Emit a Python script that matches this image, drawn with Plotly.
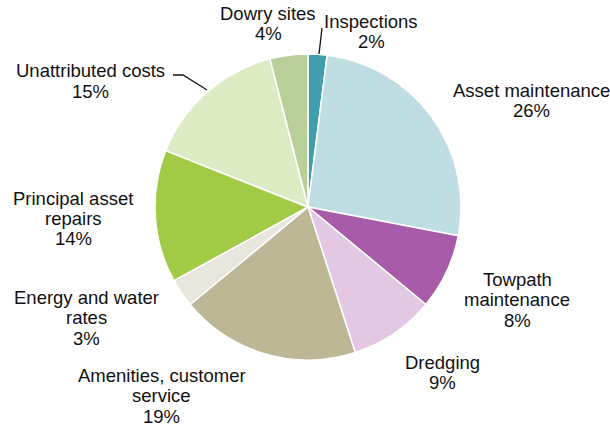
import plotly.graph_objects as go

# Expenditure breakdown, clockwise from 12 o'clock
categories = [
    "Inspections",
    "Asset maintenance",
    "Towpath maintenance",
    "Dredging",
    "Amenities, customer service",
    "Energy and water rates",
    "Principal asset repairs",
    "Unattributed costs",
    "Dowry sites",
]
shares = [2, 26, 8, 9, 19, 3, 14, 15, 4]

# Label text, one entry per displayed line (percentage appended below)
label_lines = [
    ["Inspections"],
    ["Asset maintenance"],
    ["Towpath", "maintenance"],
    ["Dredging"],
    ["Amenities, customer", "service"],
    ["Energy and water", "rates"],
    ["Principal asset", "repairs"],
    ["Unattributed costs"],
    ["Dowry sites"],
]

colors = [
    "#3f9fae",
    "#bfdee4",
    "#a75ba9",
    "#e3c7e3",
    "#bdb795",
    "#e7e5dc",
    "#a1cb45",
    "#ddebc4",
    "#b9cf9a",
]

W, H = 610, 427
CX, CY, R = 308, 207, 153
LINE_STEP = 20.5
FONT = dict(family="Arial, Liberation Sans, sans-serif", size=18.5, color="#111111")

# Label centres in pixels (x, y-centre of the first line)
label_pos = [
    (371, 21),
    (531, 90),
    (517, 279),
    (442, 362),
    (162, 375),
    (86, 297),
    (73, 198),
    (90, 71),
    (268, 13),
]

fig = go.Figure(
    go.Pie(
        labels=categories,
        values=shares,
        sort=False,
        direction="clockwise",
        rotation=0,
        marker=dict(colors=colors, line=dict(color="white", width=1.5)),
        textinfo="none",
        hoverinfo="label+percent",
        showlegend=False,
        domain=dict(
            x=[(CX - R) / W, (CX + R) / W],
            y=[1 - (CY + R) / H, 1 - (CY - R) / H],
        ),
    )
)

annotations = []
for lines, pct, (px, py) in zip(label_lines, shares, label_pos):
    for i, line in enumerate(lines + [f"{pct}%"]):
        annotations.append(
            dict(
                text=line,
                x=px / W,
                y=1 - (py + i * LINE_STEP) / H,
                xref="paper",
                yref="paper",
                xanchor="center",
                yanchor="middle",
                showarrow=False,
                font=FONT,
            )
        )

# Leader lines
leaders = [
    [(319, 54), (322, 28)],
    [(173, 75), (183, 75), (207, 90)],
]
shapes = []
for pts in leaders:
    path = "M " + " L ".join(f"{x / W},{1 - y / H}" for x, y in pts)
    shapes.append(
        dict(type="path", path=path, xref="paper", yref="paper",
             line=dict(color="#111111", width=1.3))
    )

fig.update_layout(
    width=W,
    height=H,
    margin=dict(l=0, r=0, t=0, b=0),
    paper_bgcolor="white",
    plot_bgcolor="white",
    annotations=annotations,
    shapes=shapes,
)

fig.write_html("out.html")
